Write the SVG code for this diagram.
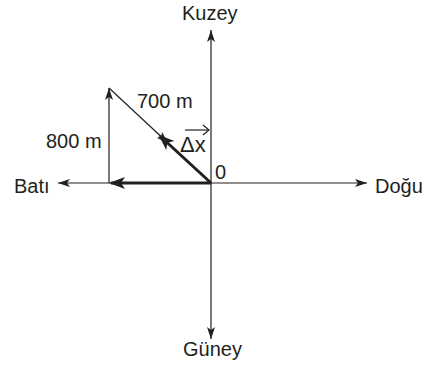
<svg xmlns="http://www.w3.org/2000/svg" width="433" height="372" viewBox="0 0 433 372">
<style>
text{font-family:"Liberation Sans",Arial,sans-serif;font-size:20px;fill:#231f20}
.thin{stroke:#231f20;stroke-width:1.2;fill:none}
.thick{stroke:#231f20;stroke-width:3;fill:none}
</style>
<defs>
<marker id="ah" markerUnits="userSpaceOnUse" markerWidth="13" markerHeight="9" refX="12" refY="4.5" orient="auto">
<path d="M0,0.5 L12,4.5 L0,8.5 L3,4.5 z" fill="#231f20"/>
</marker>
<marker id="ahb" markerUnits="userSpaceOnUse" markerWidth="18" markerHeight="14" refX="14" refY="7" orient="auto">
<path d="M0,1 L16,7 L0,13 L4,7 z" fill="#231f20"/>
</marker>
</defs>
<rect width="433" height="372" fill="#fff"/>
<g id="connectors">
<line class="thin" x1="211" y1="183" x2="211" y2="30" marker-end="url(#ah)"/>
<line class="thin" x1="211" y1="183" x2="211" y2="339" marker-end="url(#ah)"/>
<line class="thin" x1="211" y1="183" x2="58" y2="183" marker-end="url(#ah)"/>
<line class="thin" x1="211" y1="183" x2="367" y2="183" marker-end="url(#ah)"/>
<line class="thin" x1="109" y1="183" x2="109" y2="88" marker-end="url(#ah)"/>
<line class="thin" x1="109" y1="88" x2="168" y2="143" marker-end="url(#ah)"/>
<line class="thick" x1="211" y1="183" x2="160" y2="136" marker-end="url(#ahb)"/>
<line class="thick" x1="211" y1="183" x2="111" y2="183" marker-end="url(#ahb)"/>
</g>
<g id="kuzey"><text x="182" y="20">Kuzey</text></g>
<g id="guney"><text x="183" y="356">Güney</text></g>
<g id="bati"><text x="14" y="193">Batı</text></g>
<g id="dogu"><text x="375" y="193">Doğu</text></g>
<g id="origin"><text x="215" y="179">0</text></g>
<g id="label700"><text x="137" y="108">700 m</text></g>
<g id="label800"><text x="46" y="148">800 m</text></g>
<g id="deltax">
<text x="180" y="152" style="font-size:22px">Δx</text>
<polyline class="thin" points="185,130 209,130"/>
<polyline class="thin" points="203,125 209,130 203,135"/>
</g>
</svg>
